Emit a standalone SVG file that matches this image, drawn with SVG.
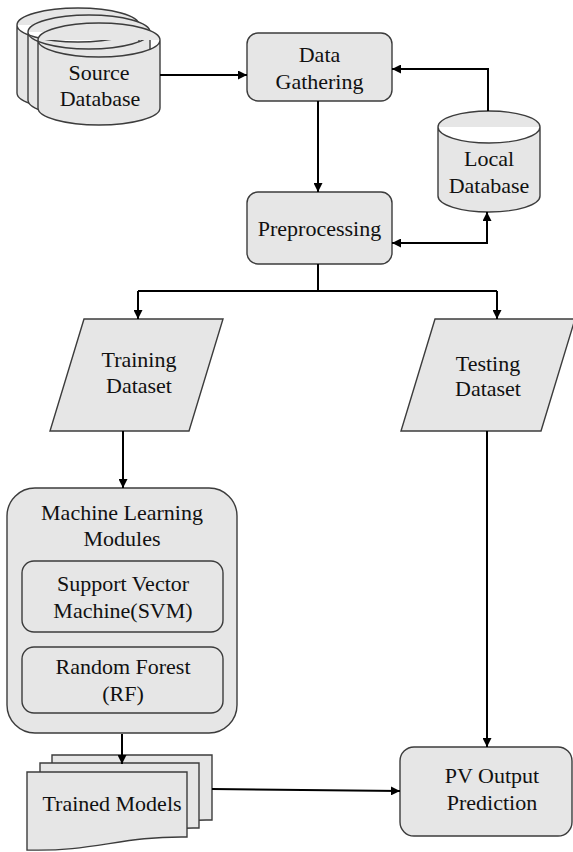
<svg xmlns="http://www.w3.org/2000/svg" width="573" height="852" viewBox="0 0 573 852">
<style>
.shape{fill:#e6e6e6;stroke:#3c3c3c;stroke-width:1.4}
.lbl{font-family:'Liberation Serif','DejaVu Serif','Noto Serif',serif;font-size:22px;fill:#111;text-anchor:middle;dominant-baseline:central}
.conn{fill:none;stroke:#000;stroke-width:2}
</style>
<defs>
<marker id="ah" viewBox="0 0 10 10" refX="10" refY="5" markerWidth="9" markerHeight="9" markerUnits="userSpaceOnUse" orient="auto-start-reverse">
<path d="M0,0 L10,5 L0,10 Z" fill="#000"/>
</marker>
</defs>
<rect width="573" height="852" fill="#fff"/>

<g id="source-database">
<path class="shape" d="M17,25 A61,17 0 0 1 139,25 V93 A61,17 0 0 1 17,93 Z M17,25 A61,17 0 0 0 139,25"/>
<path class="shape" d="M28,32 A61,17 0 0 1 150,32 V100 A61,17 0 0 1 28,100 Z M28,32 A61,17 0 0 0 150,32"/>
<path class="shape" d="M38,40 A61,17 0 0 1 160,40 V108 A61,17 0 0 1 38,108 Z M38,40 A61,17 0 0 0 160,40"/>
<text class="lbl" font-family="Liberation Serif" x="99" y="72">Source</text>
<text class="lbl" font-family="Liberation Serif" x="100" y="98">Database</text>
</g>

<g id="data-gathering">
<rect class="shape" x="247" y="33" width="145" height="68" rx="11"/>
<text class="lbl" x="319.5" y="54">Data</text>
<text class="lbl" x="319.5" y="81">Gathering</text>
</g>

<g id="local-database">
<path class="shape" d="M438,127 A51,16 0 0 1 540,127 V196 A51,16 0 0 1 438,196 Z M438,127 A51,16 0 0 0 540,127"/>
<text class="lbl" x="489" y="158">Local</text>
<text class="lbl" x="489" y="185">Database</text>
</g>

<g id="preprocessing">
<rect class="shape" x="247" y="192" width="145" height="72" rx="11"/>
<text class="lbl" x="319.5" y="228">Preprocessing</text>
</g>

<g id="training-dataset">
<path class="shape" d="M84,319 H223 L189,431 H50 Z"/>
<text class="lbl" x="139" y="359">Training</text>
<text class="lbl" x="139" y="385">Dataset</text>
</g>

<g id="testing-dataset">
<path class="shape" d="M435,319 H575 L541,431 H401 Z"/>
<text class="lbl" x="488" y="363">Testing</text>
<text class="lbl" x="488" y="388">Dataset</text>
</g>

<g id="ml-modules">
<rect class="shape" x="7" y="488" width="230" height="245" rx="28"/>
<text class="lbl" x="122" y="512">Machine Learning</text>
<text class="lbl" x="122" y="538">Modules</text>
<g id="svm">
<rect class="shape" x="22" y="561" width="201" height="71" rx="12"/>
<text class="lbl" x="123" y="583">Support Vector</text>
<text class="lbl" x="123" y="610">Machine(SVM)</text>
</g>
<g id="rf">
<rect class="shape" x="22" y="647" width="201" height="66" rx="12"/>
<text class="lbl" x="123" y="666">Random Forest</text>
<text class="lbl" x="123" y="693">(RF)</text>
</g>
</g>

<g id="trained-models">
<path class="shape" d="M52,755 H212 V820 C145,819 120,835 52,833 Z"/>
<path class="shape" d="M40,763 H199 V828 C132,827 108,843 40,841 Z"/>
<path class="shape" d="M27,772 H187 V837 C120,836 95,852 27,850 Z"/>
<text class="lbl" x="112" y="803">Trained Models</text>
</g>

<g id="pv-output">
<rect class="shape" x="400" y="747" width="172" height="89" rx="14"/>
<text class="lbl" x="492" y="775">PV Output</text>
<text class="lbl" x="492" y="802">Prediction</text>
</g>

<g id="connectors">
<path class="conn" d="M160,75 H247" marker-end="url(#ah)"/>
<path class="conn" d="M318,101 V192" marker-end="url(#ah)"/>
<path class="conn" d="M488,111 V69 H392" marker-end="url(#ah)"/>
<path class="conn" d="M392,243 H487 V212" marker-start="url(#ah)" marker-end="url(#ah)"/>
<path class="conn" d="M318,264 V291"/>
<path class="conn" d="M138,291 H497"/>
<path class="conn" d="M138,291 V319" marker-end="url(#ah)"/>
<path class="conn" d="M497,291 V319" marker-end="url(#ah)"/>
<path class="conn" d="M123,431 V488" marker-end="url(#ah)"/>
<path class="conn" d="M487,431 V747" marker-end="url(#ah)"/>
<path class="conn" d="M122,734 V764" marker-end="url(#ah)"/>
<path class="conn" d="M212,789 L400,791" marker-end="url(#ah)"/>
</g>
</svg>
